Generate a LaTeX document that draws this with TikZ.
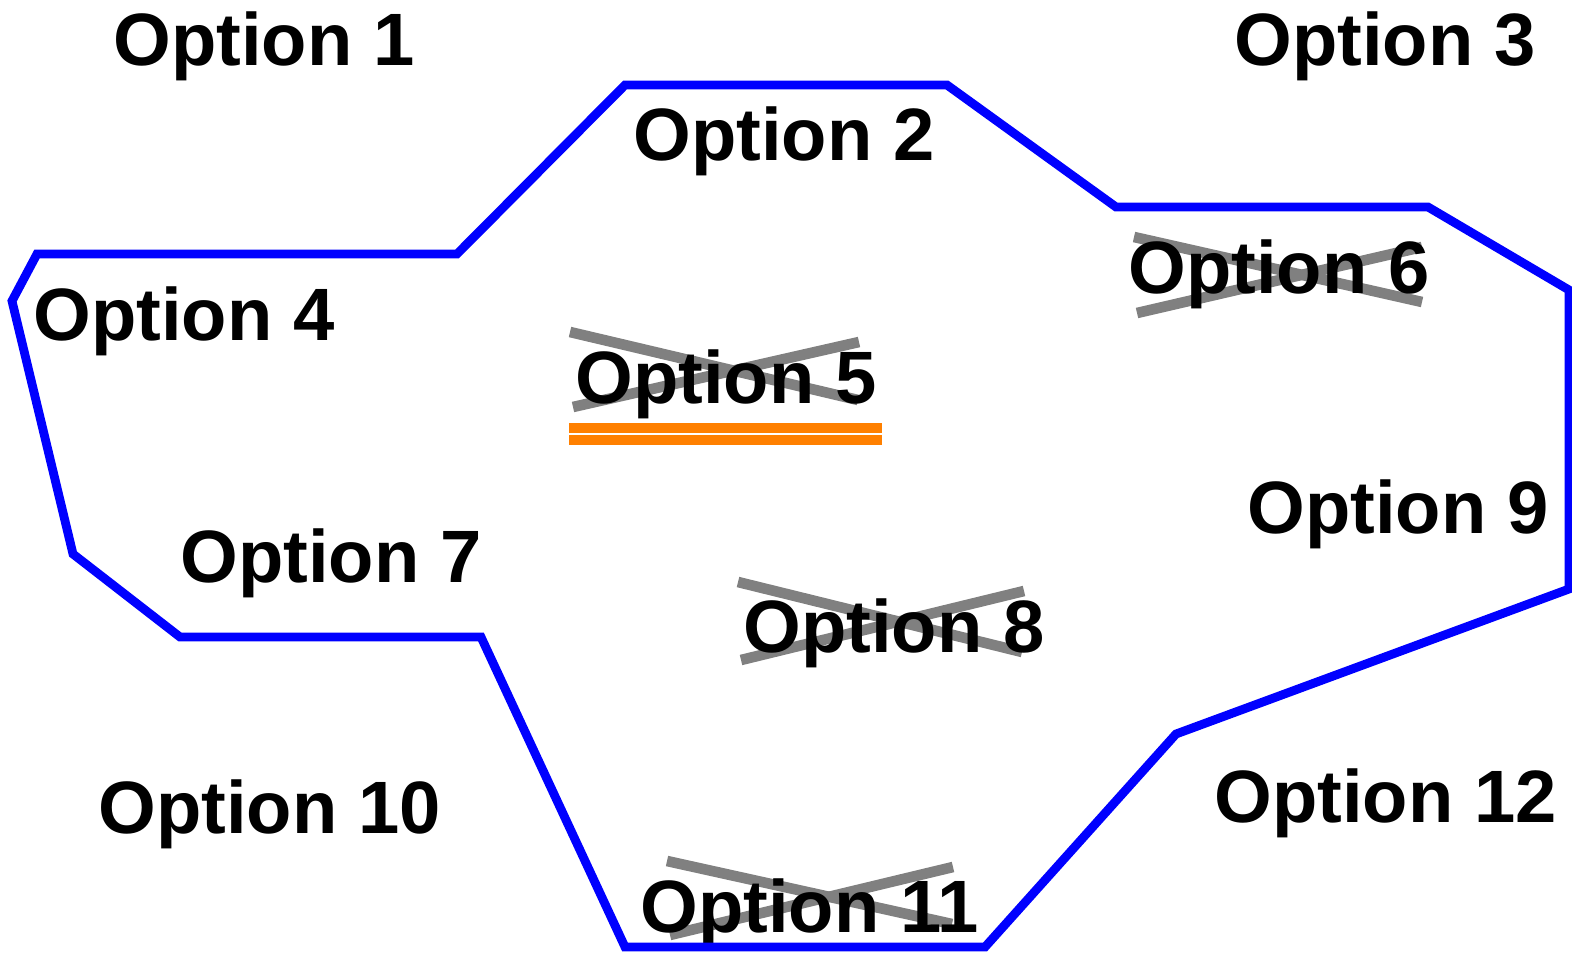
\documentclass[tikz,border=0pt]{standalone}
\usepackage{fontspec}
\setmainfont{Liberation Sans}
\usetikzlibrary{backgrounds}
\tikzset{
    optlabel/.style={anchor=base west, inner sep=0pt, font=\fontsize{37.1}{40}\selectfont\bfseries},
    strike/.style={draw=gray, line width=5.3pt},
    region/.style={draw=blue, line width=4.4pt, line join=miter},
    underl/.style={draw=orange, line width=5pt}
}

\begin{document}
\begin{tikzpicture}[x=0.5pt, y=-0.5pt]
    \useasboundingbox (0,0) rectangle (1572,953);

    % option labels
    \node[optlabel] (opt1) at (113,65) {Option 1};
    \node[optlabel] (opt2) at (633,160) {Option 2};
    \node[optlabel] (opt3) at (1234,65) {Option 3};
    \node[optlabel] (opt4) at (33,340) {Option 4};
    \node[optlabel] (opt5) at (575,403) {Option 5};
    \node[optlabel] (opt6) at (1128,293) {Option 6};
    \node[optlabel] (opt7) at (180,582) {Option 7};
    \node[optlabel] (opt8) at (743,652) {Option 8};
    \node[optlabel] (opt9) at (1247,533) {Option 9};
    \node[optlabel] (opt10) at (98,833) {Option 10};
    \node[optlabel] (opt11) at (640,932) {Option 11};
    \node[optlabel] (opt12) at (1214,822) {Option 12};

    % outline of the chosen area
    \draw[region] (625,85) -- (947,85) -- (1116,207) -- (1428,207) -- (1569,290)
        -- (1569,589) -- (1176,734) -- (985,947) -- (625,947) -- (481,637)
        -- (180,637) -- (73,554) -- (12,301) -- (37,254) -- (457,254) -- cycle;

    % crossed out options
    \begin{scope}[on background layer]
        \draw[strike] (570,332) -- (858,400);
        \draw[strike] (573,407) -- (859,342);
        \draw[strike] (1134,237) -- (1422,302);
        \draw[strike] (1137,313) -- (1422,247);
        \draw[strike] (738,582) -- (1022,652);
        \draw[strike] (741,660) -- (1024,591);
        \draw[strike] (667,861) -- (952,924);
        \draw[strike] (670,935) -- (953,867);
    \end{scope}

    % double underline
    \draw[underl] (569,428) -- (882,428);
    \draw[underl] (569,440) -- (882,440);
\end{tikzpicture}
\end{document}
